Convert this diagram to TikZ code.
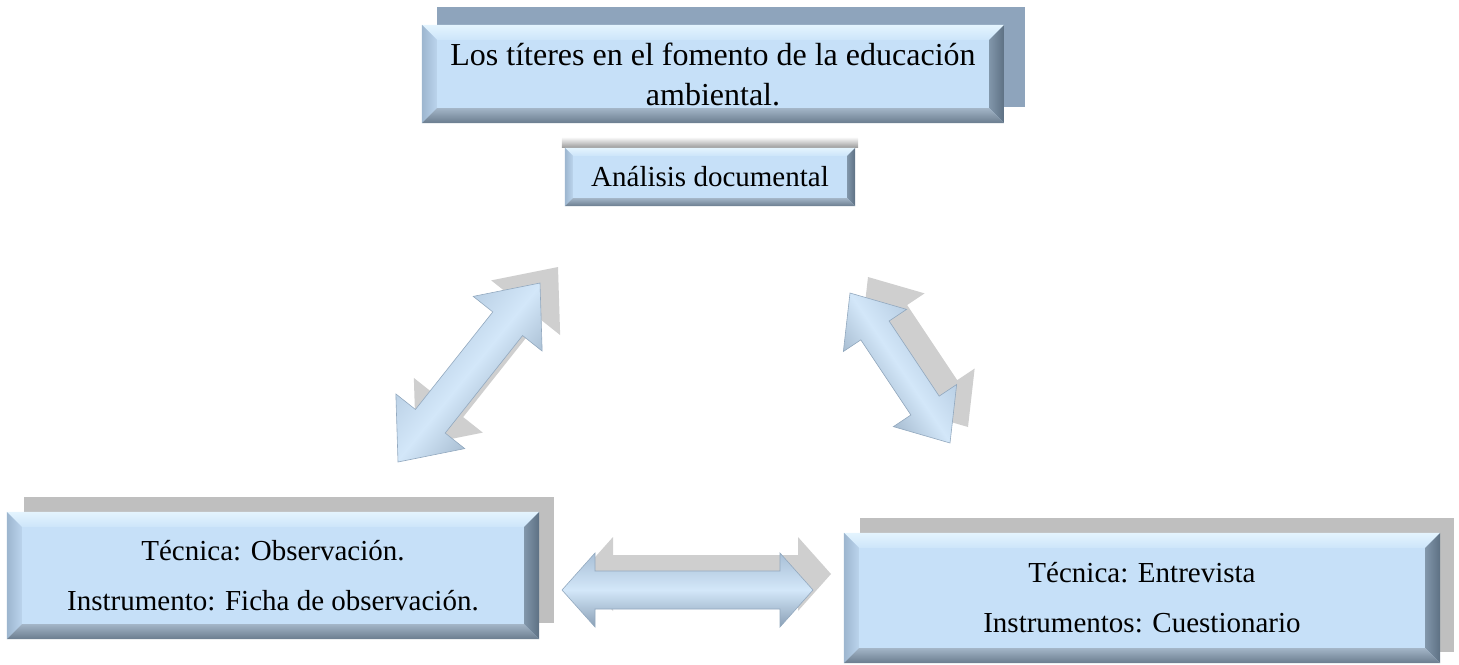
\documentclass[tikz,border=0pt]{standalone}
\usepackage{fontspec}
\setmainfont{Liberation Serif}
\usetikzlibrary{calc,backgrounds}
\definecolor{face}{HTML}{C6E0F8}
\definecolor{bevTopA}{HTML}{E4F4FE}
\definecolor{bevTopB}{HTML}{CDE5FA}
\definecolor{bevLeftA}{HTML}{9DB6CF}
\definecolor{bevLeftB}{HTML}{BBD4EC}
\definecolor{bevRightA}{HTML}{8196AA}
\definecolor{bevRightB}{HTML}{5D7083}
\definecolor{bevBotA}{HTML}{A3B5C7}
\definecolor{bevBotB}{HTML}{6A7C8E}
\definecolor{shadowBlue}{HTML}{8EA4BC}
\definecolor{shadowGray}{HTML}{BFBFBF}
\definecolor{arrowEdge}{HTML}{93A9BF}
\definecolor{arrowMid}{HTML}{D3E7F9}
\definecolor{arrowTop}{HTML}{A8BFD6}
\definecolor{arrowBot}{HTML}{8AA0B6}
\definecolor{arrowShadow}{HTML}{CFCFCF}
\newcommand{\bevelbox}[2]{%
  \shade[top color=bevTopA, bottom color=bevTopB]
    (#1.north west) -- (#1.north east) -- ([xshift=-#2pt,yshift=-#2pt]#1.north east) -- ([xshift=#2pt,yshift=-#2pt]#1.north west) -- cycle;
  \shade[left color=bevLeftA, right color=bevLeftB]
    (#1.north west) -- ([xshift=#2pt,yshift=-#2pt]#1.north west) -- ([xshift=#2pt,yshift=#2pt]#1.south west) -- (#1.south west) -- cycle;
  \shade[left color=bevRightA, right color=bevRightB]
    (#1.north east) -- (#1.south east) -- ([xshift=-#2pt,yshift=#2pt]#1.south east) -- ([xshift=-#2pt,yshift=-#2pt]#1.north east) -- cycle;
  \shade[top color=bevBotA, bottom color=bevBotB]
    (#1.south west) -- ([xshift=#2pt,yshift=#2pt]#1.south west) -- ([xshift=-#2pt,yshift=#2pt]#1.south east) -- (#1.south east) -- cycle;
}
\newcommand{\arrowpath}[5]{%
  (#1) -- ($(#1)!#3!(#2)!#5!90:(#2)$) -- ($(#1)!#3!(#2)!#4!90:(#2)$)
  -- ($(#2)!#3!(#1)!#4!-90:(#1)$) -- ($(#2)!#3!(#1)!#5!-90:(#1)$)
  -- (#2) -- ($(#2)!#3!(#1)!#5!90:(#1)$) -- ($(#2)!#3!(#1)!#4!90:(#1)$)
  -- ($(#1)!#3!(#2)!#4!-90:(#2)$) -- ($(#1)!#3!(#2)!#5!-90:(#2)$) -- cycle
}
\begin{document}
\begin{tikzpicture}[x=1pt,y=-1pt,
  box/.style={fill=face, inner sep=0pt, align=center, font=\fontsize{29}{50}\selectfont},
  arrowbody/.style={draw=arrowEdge, line width=0.6pt, top color=arrowTop, bottom color=arrowBot, middle color=arrowMid},
  arrowshade/.style={fill=arrowShadow}]
\useasboundingbox (0,0) rectangle (1459,664);

% boxes
\node[box, minimum width=582pt, minimum height=98pt, font=\fontsize{32}{40}\selectfont] (title) at (713,74)
  {Los títeres en el fomento de la educación\\ambiental.};
\node[box, minimum width=290pt, minimum height=58pt] (ana) at (710,177) {Análisis documental};
\node[box, minimum width=532pt, minimum height=127pt] (obs) at (273,575.5)
  {Técnica: Observación.\\Instrumento: Ficha de observación.};
\node[box, minimum width=596pt, minimum height=130pt] (ent) at (1142,598)
  {Técnica: Entrevista\\Instrumentos: Cuestionario};

\begin{scope}[on background layer]
  \fill[shadowBlue] ([xshift=15pt,yshift=18pt]title.north west) rectangle ([xshift=21pt,yshift=16pt]title.south east);
  \fill[shadowGray] ([xshift=17pt,yshift=15pt]obs.north west) rectangle ([xshift=15pt,yshift=16pt]obs.south east);
  \fill[shadowGray] ([xshift=16pt,yshift=15pt]ent.north west) rectangle ([xshift=14pt,yshift=11pt]ent.south east);
  \shade[top color=white, bottom color=black!40] ([xshift=-3pt,yshift=11pt]ana.north west) rectangle ([xshift=3pt]ana.north east);
\end{scope}

\bevelbox{title}{15}
\bevelbox{ana}{8}
\bevelbox{obs}{15}
\bevelbox{ent}{15}

% arrows
\coordinate (la1) at (398,462);
\coordinate (la2) at (540,283);
\coordinate (ra1) at (850,293);
\coordinate (ra2) at (950,443);
\coordinate (ha1) at (562,590);
\coordinate (ha2) at (813,590);

\begin{scope}[transform canvas={xshift=18pt,yshift=16pt}]
  \fill[arrowshade] \arrowpath{la1}{la2}{52pt}{19pt}{44pt};
  \fill[arrowshade] \arrowpath{ra1}{ra2}{45pt}{17pt}{38pt};
  \fill[arrowshade] \arrowpath{ha1}{ha2}{33pt}{19pt}{37pt};
\end{scope}
\shade[arrowbody, shading angle=51] \arrowpath{la1}{la2}{52pt}{19pt}{44pt};
\shade[arrowbody, shading angle=-56] \arrowpath{ra1}{ra2}{45pt}{17pt}{38pt};
\shade[arrowbody] \arrowpath{ha1}{ha2}{33pt}{19pt}{37pt};
\end{tikzpicture}
\end{document}
